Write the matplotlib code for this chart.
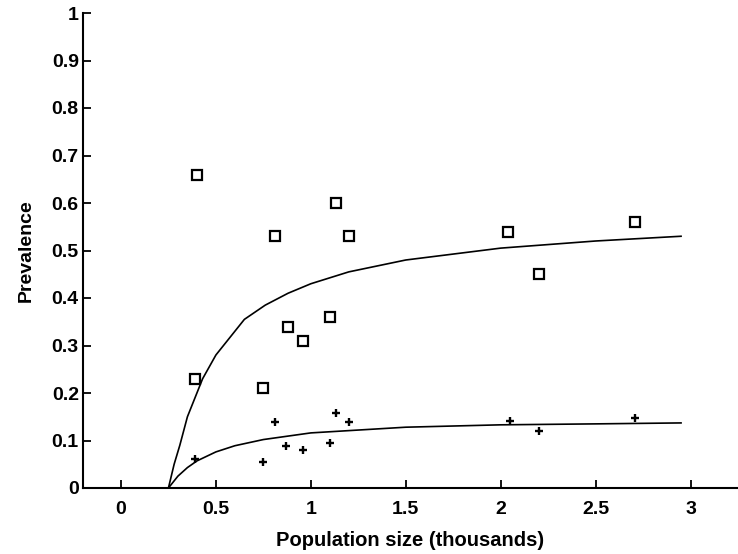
import matplotlib
matplotlib.use("Agg")
import matplotlib.pyplot as plt

# observed prevalence, squares (upper group)
sq_x = [0.40, 1.13, 0.81, 1.20, 1.10, 0.88, 0.96, 0.39, 0.75, 2.04, 2.71, 2.20]
sq_y = [0.66, 0.60, 0.53, 0.53, 0.36, 0.34, 0.31, 0.23, 0.21, 0.54, 0.56, 0.45]

# observed prevalence, crosses (lower group)
pl_x = [0.39, 0.75, 0.81, 0.87, 0.96, 1.10, 1.13, 1.20, 2.05, 2.20, 2.71]
pl_y = [0.062, 0.055, 0.14, 0.089, 0.081, 0.094, 0.158, 0.14, 0.141, 0.119, 0.147]

# fitted curves
up_x = [0.25, 0.28, 0.31, 0.35, 0.43, 0.50, 0.56, 0.65, 0.76, 0.88, 1.0, 1.2, 1.5, 2.0, 2.5, 2.95]
up_y = [0.0, 0.05, 0.09, 0.15, 0.23, 0.28, 0.31, 0.355, 0.385, 0.41, 0.43, 0.455, 0.48, 0.505, 0.52, 0.53]
lo_x = [0.25, 0.3, 0.35, 0.4, 0.5, 0.6, 0.75, 1.0, 1.5, 2.0, 2.5, 2.95]
lo_y = [0.0, 0.025, 0.043, 0.057, 0.076, 0.089, 0.102, 0.116, 0.128, 0.133, 0.135, 0.137]

xticks = [0, 0.5, 1, 1.5, 2, 2.5, 3]
xtick_labels = ["0", "0.5", "1", "1.5", "2", "2.5", "3"]
yticks = [0, 0.1, 0.2, 0.3, 0.4, 0.5, 0.6, 0.7, 0.8, 0.9, 1]
ytick_labels = ["0", "0.1", "0.2", "0.3", "0.4", "0.5", "0.6", "0.7", "0.8", "0.9", "1"]

plt.rcParams["font.family"] = ["Liberation Sans", "DejaVu Sans"]

fig = plt.figure(figsize=(7.38, 5.54), dpi=100)
ax = fig.add_axes([83 / 738, 1 - 488 / 554, 1 - 83 / 738, (488 - 13) / 554])

ax.plot(up_x, up_y, color="black", lw=1.2)
ax.plot(lo_x, lo_y, color="black", lw=1.2)
ax.plot(sq_x, sq_y, "s", ms=7, mfc="none", mec="black", mew=1.6, ls="none")
ax.plot(pl_x, pl_y, "+", ms=6, mec="black", mew=1.7, ls="none")

ax.set_xlim(-0.2, 3.25)
ax.set_ylim(0, 1)
ax.spines["top"].set_visible(False)
ax.spines["right"].set_visible(False)
ax.spines["left"].set_linewidth(1.5)
ax.spines["bottom"].set_linewidth(1.5)

ax.set_xticks(xticks)
ax.set_xticklabels(xtick_labels)
ax.set_yticks(yticks)
ax.set_yticklabels(ytick_labels)
ax.tick_params(axis="x", direction="in", length=6, width=1.3, pad=9, labelsize=14)
ax.tick_params(axis="y", direction="in", length=6, width=1.3, pad=3, labelsize=14)
for lab in ax.get_xticklabels() + ax.get_yticklabels():
    lab.set_fontweight("bold")

ax.set_xlabel("Population size (thousands)", fontsize=14.5, fontweight="bold", labelpad=10)
ax.set_ylabel("Prevalence", fontsize=14, fontweight="bold", labelpad=12)

fig.savefig("out.png", dpi=100)
